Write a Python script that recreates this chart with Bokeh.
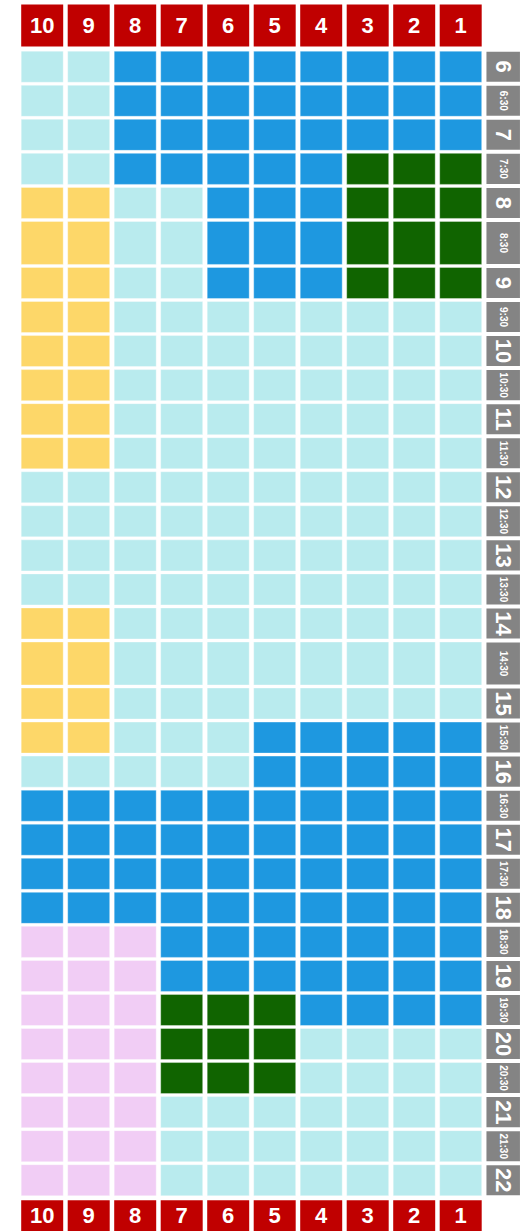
import math
from bokeh.plotting import figure
from bokeh.models import Range1d, ColumnDataSource
from bokeh.core.properties import value
from bokeh.embed import file_html
from bokeh.resources import INLINE

# ---------------- data ----------------
columns = ["10", "9", "8", "7", "6", "5", "4", "3", "2", "1"]
times = ["6", "6:30", "7", "7:30", "8", "8:30", "9", "9:30", "10", "10:30",
         "11", "11:30", "12", "12:30", "13", "13:30", "14", "14:30", "15", "15:30",
         "16", "16:30", "17", "17:30", "18", "18:30", "19", "19:30", "20", "20:30",
         "21", "21:30", "22"]

# one status code per half-hour slot (L light, B blue, G green, Y yellow, P pink)
status_10 = "LLLLYYYYYYYYLLLLYYYYLBBBBPPPPPPPP"
status_9 = "LLLLYYYYYYYYLLLLYYYYLBBBBPPPPPPPP"
status_8 = "BBBBLLLLLLLLLLLLLLLLLBBBBPPPPPPPP"
status_7 = "BBBBLLLLLLLLLLLLLLLLLBBBBBBGGGLLL"
status_6 = "BBBBBBBLLLLLLLLLLLLLLBBBBBBGGGLLL"
status_5 = "BBBBBBBLLLLLLLLLLLLBBBBBBBBGGGLLL"
status_4 = "BBBBBBBLLLLLLLLLLLLBBBBBBBBBLLLLL"
status_3 = "BBBGGGGLLLLLLLLLLLLBBBBBBBBBLLLLL"
status_2 = "BBBGGGGLLLLLLLLLLLLBBBBBBBBBLLLLL"
status_1 = "BBBGGGGLLLLLLLLLLLLBBBBBBBBBLLLLL"
status = [status_10, status_9, status_8, status_7, status_6,
          status_5, status_4, status_3, status_2, status_1]

# ---------------- styles / layout ----------------
palette = {"L": "#B9EBEE", "B": "#1E98E0", "G": "#106400",
           "Y": "#FDD769", "P": "#F1CDF5"}
HEADER_RED = "#C00000"
LABEL_GRAY = "#848484"
FONT = "Liberation Sans"

W, H = 522, 1231
COL_PITCH = 46.5          # px between column centers
COL_W = 42                # px cell width
X0 = 41.7                 # px center of first column
ROW_TOP0 = 50.7           # px top of first row
ROW_PITCH = 34.05
TALL_PITCH = 46
TALL_ROWS = {"8:30", "14:30"}
GAP = 3
HEADER_H = 42
LABEL_X_OFFSET = 0.914    # gray label column offset from last column (in columns)
LABEL_W = 33.5

row_top, row_h = [], []
cur = ROW_TOP0
for t in times:
    pitch = TALL_PITCH if t in TALL_ROWS else ROW_PITCH
    row_top.append(cur)
    row_h.append(pitch - GAP)
    cur += pitch
grid_bottom = row_top[-1] + row_h[-1]

p = figure(width=W, height=H,
           x_range=Range1d(-X0 / COL_PITCH, (W - X0) / COL_PITCH),
           y_range=Range1d(H, 0),
           output_backend="svg", toolbar_location=None,
           x_axis_location=None, y_axis_location=None, min_border=0)
p.grid.visible = False
p.outline_line_color = None
p.background_fill_color = "white"
p.border_fill_color = "white"

# cells
cx, cy, ch, cc = [], [], [], []
for ci, col in enumerate(columns):
    for ri, t in enumerate(times):
        cx.append(ci)
        cy.append(row_top[ri] + row_h[ri] / 2)
        ch.append(row_h[ri])
        cc.append(palette[status[ci][ri]])
cells = ColumnDataSource(dict(x=cx, y=cy, h=ch, c=cc))
p.rect(x="x", y="y", width=COL_W / COL_PITCH, height="h", source=cells,
       fill_color="c", line_color="white", line_alpha=0.35, line_width=1)

# headers (top and bottom)
top_c = ROW_TOP0 - 4.7 - HEADER_H / 2
bot_top = grid_bottom + 4.5
hx = list(range(len(columns)))
hdr = ColumnDataSource(dict(x=hx, lab=columns))
p.rect(x="x", y=top_c, width=COL_W / COL_PITCH, height=HEADER_H, source=hdr,
       fill_color=HEADER_RED, line_color=None)
p.rect(x="x", y=bot_top + HEADER_H / 2, width=COL_W / COL_PITCH, height=HEADER_H,
       source=hdr, fill_color=HEADER_RED, line_color=None)
for ty in (top_c + 0.3, bot_top + 15.5):
    p.text(x="x", y=ty, text="lab", source=hdr, text_color="white",
           text_font=value(FONT), text_font_style="bold", text_font_size="22px",
           text_align="center", text_baseline="middle")

# time labels
lx = len(columns) - 1 + LABEL_X_OFFSET
ly = [row_top[i] + row_h[i] / 2 for i in range(len(times))]
lh = [row_h[i] - 1 for i in range(len(times))]
labs = ColumnDataSource(dict(y=ly, h=lh, t=times))
p.rect(x=lx, y="y", width=LABEL_W / COL_PITCH, height="h", source=labs,
       fill_color=LABEL_GRAY, line_color=None)

hour_idx = [i for i, t in enumerate(times) if ":" not in t]
half_idx = [i for i, t in enumerate(times) if ":" in t]
hour_src = ColumnDataSource(dict(y=[ly[i] for i in hour_idx], t=[times[i] for i in hour_idx]))
half_src = ColumnDataSource(dict(y=[ly[i] for i in half_idx], t=[times[i] for i in half_idx]))
p.text(x=lx, y="y", text="t", source=hour_src, angle=-math.pi / 2,
       text_color="white", text_font=value(FONT), text_font_style="bold",
       text_font_size="22px", text_align="center", text_baseline="middle")
p.text(x=lx, y="y", text="t", source=half_src, angle=-math.pi / 2,
       text_color="white", text_font=value(FONT), text_font_style="bold",
       text_font_size="10px", text_align="center", text_baseline="middle")

open("out.html", "w").write(file_html(p, INLINE))
